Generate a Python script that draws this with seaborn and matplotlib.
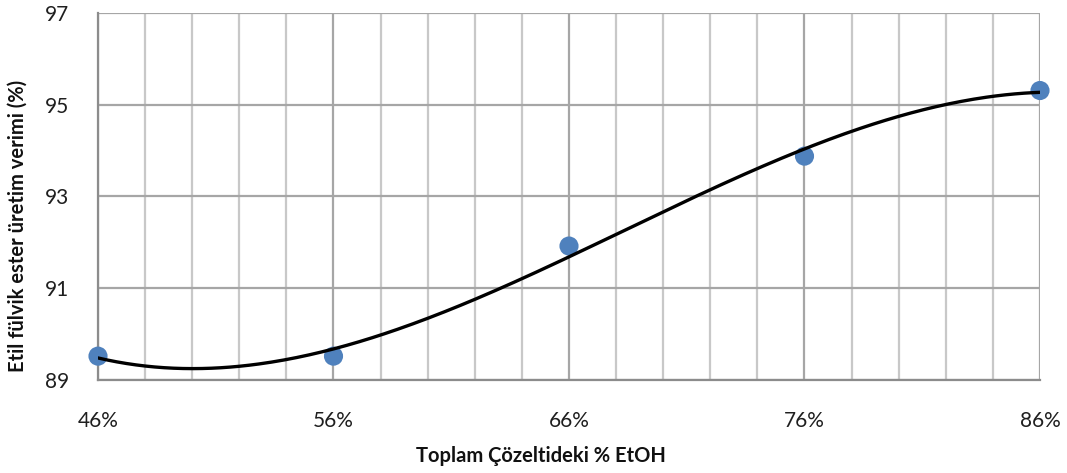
import numpy as np
import pandas as pd
import matplotlib
matplotlib.use("Agg")
import matplotlib.pyplot as plt
import seaborn as sns
from matplotlib.ticker import FixedLocator, FuncFormatter

# Measured yields at each ethanol fraction
etoh_pct = [46, 56, 66, 76, 86]
yield_pct = [89.52, 89.52, 91.92, 93.88, 95.31]
x_ticks = [46, 56, 66, 76, 86]
y_ticks = [89, 91, 93, 95, 97]

sns.set_theme(style="white")
plt.rcParams["font.family"] = ["Lato", "DejaVu Sans"]

df = pd.DataFrame({"etoh": etoh_pct, "yield": yield_pct})

# Third-order polynomial trendline fitted to the measurements
coef = np.polyfit(df["etoh"], df["yield"], 3)
xs = np.linspace(min(etoh_pct), max(etoh_pct), 300)
trend = pd.DataFrame({"etoh": xs, "yield": np.polyval(coef, xs)})

fig = plt.figure(figsize=(10.67, 4.73), dpi=100)
ax = fig.add_axes([98 / 1067, 1 - 380 / 473, (1040 - 98) / 1067, (380 - 13) / 473])

# Grid: vertical lines every 2 %, darker at labelled ticks; horizontal at labelled ticks
grid_c = "#C8C8C8"
major_c = "#A6A6A6"
for v in np.arange(46, 87, 2):
    ax.axvline(v, color=major_c if v in x_ticks else grid_c, lw=1.6, zorder=0)
for h in y_ticks:
    ax.axhline(h, color=major_c, lw=1.6, zorder=0)

sns.scatterplot(data=df, x="etoh", y="yield", ax=ax, s=190, color="#4F81BD",
                edgecolor="none", zorder=3, legend=False, clip_on=False)
sns.lineplot(data=trend, x="etoh", y="yield", ax=ax, color="black", lw=2.4,
             zorder=4, legend=False)

ax.set_xlim(46, 86)
ax.set_ylim(89, 97)
ax.xaxis.set_major_locator(FixedLocator(x_ticks))
ax.yaxis.set_major_locator(FixedLocator(y_ticks))
ax.xaxis.set_major_formatter(FuncFormatter(lambda v, p: f"{v:.0f}%"))

for side in ["top", "right"]:
    ax.spines[side].set_visible(False)
for side in ["left", "bottom"]:
    ax.spines[side].set_color("#8C8C8C")
    ax.spines[side].set_linewidth(1.6)

ax.tick_params(axis="x", direction="out", length=7, width=1.4, color="#8C8C8C",
               pad=15, labelsize=15, labelcolor="#1F1F1F")
ax.tick_params(axis="y", direction="out", length=7, width=1.4, color="#8C8C8C",
               pad=14, labelsize=15, labelcolor="#1F1F1F")
ax.tick_params(which="minor", length=0)

ax.set_xlabel("Toplam Çözeltideki % EtOH", fontsize=14.5, fontweight="bold",
              color="#111111")
ax.set_ylabel("Etil fülvik ester üretim verimi (%)", fontsize=14.5,
              fontweight="bold", color="#111111")
ax.xaxis.set_label_coords(0.47, -0.18)
ax.yaxis.set_label_coords(-0.075, 0.42)

fig.savefig("out.png", dpi=100, facecolor="white")
